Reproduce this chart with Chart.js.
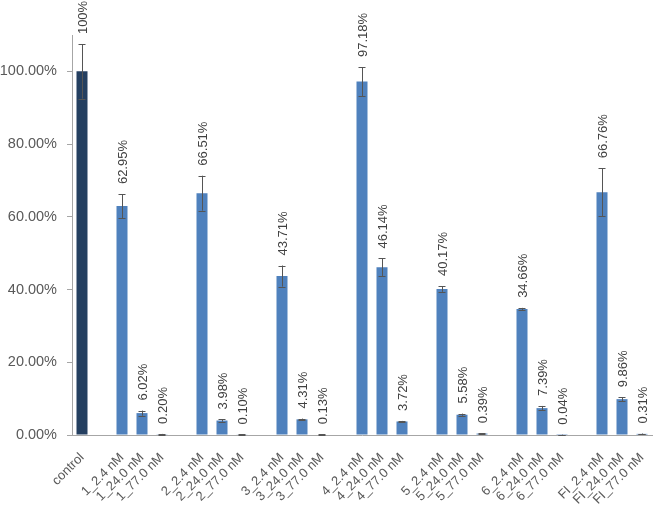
<!DOCTYPE html>
<html>
<head>
<meta charset="utf-8">
<script src="https://cdn.jsdelivr.net/npm/chart.js@4"></script>
<style>
  html, body { margin: 0; padding: 0; background: #fff; }
  #wrap { width: 653px; height: 505px; }
</style>
</head>
<body>
<div id="wrap"><canvas id="c"></canvas></div>
<script>
const categories = ['control', '',
  '1_2.4 nM', '1_24.0 nM', '1_77.0 nM', '',
  '2_2.4 nM', '2_24.0 nM', '2_77.0 nM', '',
  '3_2.4 nM', '3_24.0 nM', '3_77.0 nM', '',
  '4_2.4 nM', '4_24.0 nM', '4_77.0 nM', '',
  '5_2.4 nM', '5_24.0 nM', '5_77.0 nM', '',
  '6_2.4 nM', '6_24.0 nM', '6_77.0 nM', '',
  'FI_2.4 nM', 'FI_24.0 nM', 'FI_77.0 nM'];
const values = [100, null,
  62.95, 6.02, 0.20, null,
  66.51, 3.98, 0.10, null,
  43.71, 4.31, 0.13, null,
  97.18, 46.14, 3.72, null,
  40.17, 5.58, 0.39, null,
  34.66, 7.39, 0.04, null,
  66.76, 9.86, 0.31];
const errors = [7.5, null,
  3.3, 0.7, 0.1, null,
  4.8, 0.3, 0.05, null,
  2.9, 0.2, 0.05, null,
  4.0, 2.4, 0.15, null,
  0.8, 0.3, 0.1, null,
  0.3, 0.6, 0.05, null,
  6.6, 0.5, 0.1];
const yTicks = [0, 20, 40, 60, 80, 100];
const dataLabels = values.map(v => v === null ? '' : (v === 100 ? '100%' : v.toFixed(2) + '%'));
const barColors = values.map((v, i) => i === 0 ? '#243F60' : '#4F81BD');

const errPlugin = {
  id: 'errLabels',
  afterDatasetsDraw(chart) {
    const ctx = chart.ctx;
    const meta = chart.getDatasetMeta(0);
    const yS = chart.scales.y;
    ctx.save();
    meta.data.forEach((bar, i) => {
      if (values[i] === null) return;
      const x = bar.x;
      const e = errors[i];
      const yt = yS.getPixelForValue(values[i] + e);
      const yb = yS.getPixelForValue(Math.max(0, values[i] - e));
      ctx.strokeStyle = '#555555';
      ctx.lineWidth = 1;
      ctx.beginPath();
      ctx.moveTo(Math.round(x) + 0.5, yt);
      ctx.lineTo(Math.round(x) + 0.5, yb);
      ctx.moveTo(x - 3.5, Math.round(yt) + 0.5);
      ctx.lineTo(x + 3.5, Math.round(yt) + 0.5);
      ctx.moveTo(x - 3.5, Math.round(yb) + 0.5);
      ctx.lineTo(x + 3.5, Math.round(yb) + 0.5);
      ctx.stroke();
      ctx.save();
      ctx.translate(x + 1, yt - 10);
      ctx.rotate(-Math.PI / 2);
      ctx.fillStyle = '#404040';
      ctx.font = '13px "Liberation Sans", Arial, sans-serif';
      ctx.textAlign = 'left';
      ctx.textBaseline = 'middle';
      ctx.fillText(dataLabels[i], 0, 0);
      ctx.restore();
    });
    ctx.restore();
  }
};

new Chart(document.getElementById('c'), {
  type: 'bar',
  data: {
    labels: categories,
    datasets: [{
      data: values,
      backgroundColor: barColors,
      borderWidth: 0,
      barPercentage: 0.55,
      categoryPercentage: 1.0
    }]
  },
  options: {
    responsive: true,
    maintainAspectRatio: false,
    animation: false,
    layout: { padding: { top: 35, right: 1, left: 0, bottom: 0 } },
    plugins: { legend: { display: false }, tooltip: { enabled: false } },
    scales: {
      x: {
        grid: { display: false },
        border: { display: true, color: '#a6a6a6' },
        ticks: {
          autoSkip: false,
          minRotation: 45,
          maxRotation: 45,
          padding: 7,
          color: '#595959',
          font: { family: '"Liberation Sans", Arial, sans-serif', size: 13 }
        },
        afterFit(scale) { scale.height = 70; scale.paddingLeft = 0; scale.paddingRight = 0; }
      },
      y: {
        min: 0,
        max: 110,
        afterBuildTicks(scale) { scale.ticks = yTicks.map(v => ({ value: v })); },
        grid: { display: true, drawOnChartArea: false, drawTicks: true, tickLength: 5, color: '#a6a6a6' },
        border: { display: true, color: '#a6a6a6' },
        ticks: {
          padding: 10,
          color: '#595959',
          font: { family: '"Liberation Sans", Arial, sans-serif', size: 14.5 },
          callback: v => v.toFixed(2) + '%'
        },
        afterFit(scale) { scale.width = 72; scale.paddingTop = 0; scale.paddingBottom = 0; }
      }
    }
  },
  plugins: [errPlugin]
});
</script>
</body>
</html>
